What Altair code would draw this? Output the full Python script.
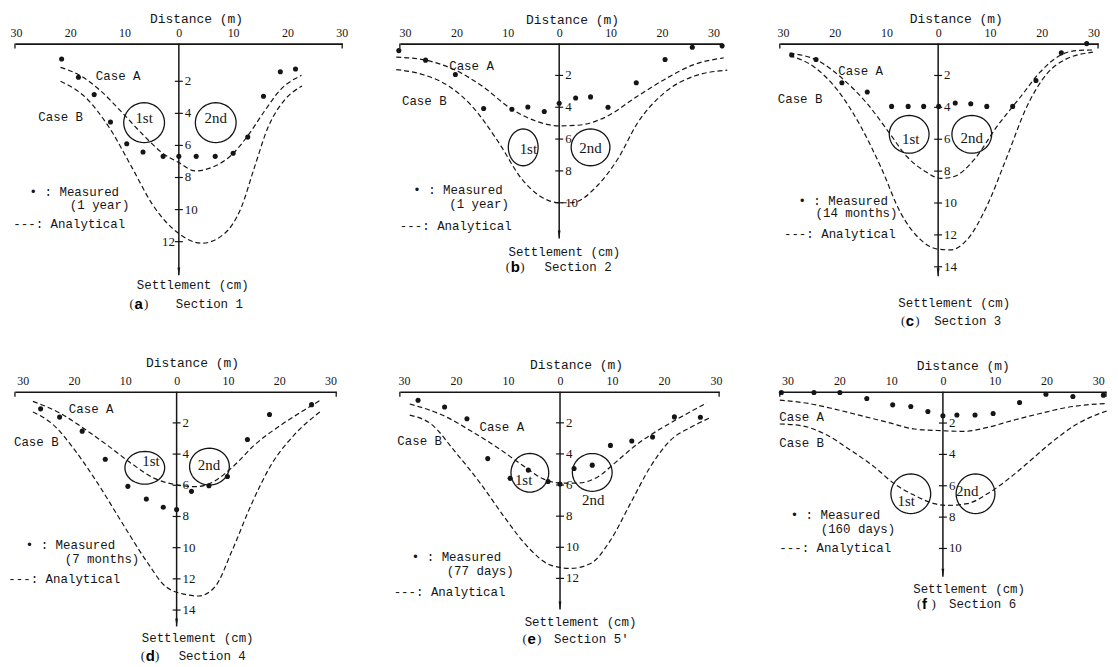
import math
import altair as alt
import pandas as pd

# ---------------- data ----------------
X_TICKS = [-30, -20, -10, 0, 10, 20, 30]

# (a) Section 1
A_MEAS_D = [-21.6, -18.5, -15.6, -12.6, -9.6, -6.6, -2.9, 0.0, 3.2, 6.7, 10.0, 12.7, 15.6, 18.7, 21.5]
A_MEAS_S = [0.61, 1.75, 2.83, 4.54, 5.89, 6.41, 6.68, 6.68, 6.68, 6.68, 6.49, 5.48, 2.93, 1.40, 1.23]
A_CASEA_D = [-21.8, -18.3, -14.7, -10.4, -6.7, -3.1, 0.0, 3.0, 6.0, 9.7, 12.7, 15.7, 18.8, 22.6]
A_CASEA_S = [1.13, 1.62, 2.51, 3.97, 5.3, 6.45, 7.07, 7.59, 7.38, 6.6, 5.4, 3.9, 2.5, 1.63]
A_CASEB_D = [-21.8, -17.1, -12.8, -8.6, -4.9, 0.0, 4.2, 8.4, 11.5, 13.9, 16.4, 19.4, 22.7]
A_CASEB_S = [2.0, 3.04, 4.9, 7.4, 9.66, 11.5, 12.1, 11.5, 9.87, 7.4, 4.9, 3.2, 2.3]
A_TICKS = [2, 4, 6, 8, 10, 12]
A_PERIOD = "(1 year)"
A_SECTION = "Section 1"

# (b) Section 2
B_MEAS_D = [-31.2, -26.0, -20.2, -14.7, -9.2, -6.1, -2.9, 0.0, 3.2, 6.1, 9.5, 15.0, 20.6, 25.9, 31.7]
B_MEAS_S = [0.44, 1.04, 1.94, 4.08, 4.13, 3.98, 4.27, 3.75, 3.42, 3.35, 4.0, 2.46, 1.0, 0.23, 0.13]
B_CASEA_D = [-31.7, -26.0, -20.2, -15.0, -9.2, -4.7, 0.0, 3.7, 8.8, 15.3, 20.5, 26.3, 32.0]
B_CASEA_S = [0.85, 1.04, 1.67, 2.67, 4.13, 4.85, 5.17, 5.13, 4.65, 3.29, 2.25, 1.31, 0.9]
B_CASEB_D = [-31.7, -26.6, -21.5, -17.0, -11.8, -7.3, -3.4, 0.0, 2.4, 7.5, 11.4, 15.3, 20.5, 26.3, 32.7]
B_CASEB_S = [1.63, 1.94, 2.67, 3.92, 6.2, 8.5, 9.65, 10.0, 10.0, 8.9, 7.25, 4.96, 3.08, 2.04, 1.67]
B_TICKS = [2, 4, 6, 8, 10]
B_PERIOD = "(1 year)"
B_SECTION = "Section 2"

# (c) Section 3
C_MEAS_D = [-28.3, -23.6, -18.6, -13.7, -9.0, -5.8, -2.8, 0.1, 3.3, 6.3, 9.4, 14.4, 18.9, 23.8, 28.7]
C_MEAS_S = [0.71, 1.0, 2.46, 3.04, 3.94, 3.94, 3.94, 3.94, 3.73, 3.77, 3.94, 3.94, 2.31, 0.58, 0.0]
C_CASEA_D = [-28.7, -23.3, -18.1, -13.7, -9.8, -6.0, -2.4, 0.45, 3.0, 6.9, 11.3, 15.9, 19.7, 23.5, 26.7, 29.9]
C_CASEA_S = [0.6, 1.06, 2.31, 3.77, 5.44, 7.1, 8.04, 8.46, 8.35, 7.3, 5.23, 3.35, 1.79, 0.75, 0.44, 0.4]
C_CASEB_D = [-28.7, -23.9, -19.4, -14.9, -11.1, -7.2, -3.4, 0.0, 2.4, 5.6, 9.4, 13.3, 17.1, 21.0, 24.8, 29.9]
C_CASEB_S = [0.75, 1.48, 2.94, 5.23, 7.73, 10.65, 12.3, 12.9, 12.94, 12.3, 10.2, 7.1, 3.98, 1.9, 0.96, 0.54]
C_TICKS = [2, 4, 6, 8, 10, 12, 14]
C_PERIOD = "(14 months)"
C_SECTION = "Section 3"

# (d) Section 4
D_MEAS_D = [-26.5, -22.8, -18.4, -13.9, -9.5, -5.9, -2.6, 0.0, 2.9, 6.3, 9.9, 13.8, 18.1, 26.3]
D_MEAS_S = [1.10, 1.63, 2.53, 4.33, 6.07, 6.88, 7.41, 7.56, 6.39, 6.03, 5.44, 3.06, 1.46, 0.83]
D_CASEA_D = [-28.0, -22.8, -18.3, -13.7, -8.6, -4.7, 0.0, 3.7, 6.9, 10.8, 15.3, 20.5, 25.0, 27.9]
D_CASEA_S = [0.62, 1.36, 2.31, 3.38, 4.65, 5.5, 5.97, 6.09, 5.82, 4.86, 3.38, 2.1, 1.15, 0.57]
D_CASEB_D = [-28.0, -24.1, -20.2, -15.7, -10.5, -6.0, -2.1, 1.7, 4.3, 7.5, 10.8, 14.6, 18.5, 23.0, 27.9]
D_CASEB_S = [1.3, 2.1, 3.59, 5.71, 8.47, 10.8, 12.5, 13.0, 13.1, 12.5, 10.2, 7.2, 4.65, 2.74, 1.3]
D_TICKS = [2, 4, 6, 8, 10, 12, 14]
D_PERIOD = "(7 months)"
D_SECTION = "Section 4"

# (e) Section 5
E_MEAS_D = [-27.3, -22.2, -17.9, -13.9, -9.6, -6.1, -2.3, 0.0, 2.7, 6.2, 9.7, 13.8, 17.8, 22.0, 27.0]
E_MEAS_S = [0.55, 0.98, 1.74, 4.30, 5.57, 5.04, 5.77, 5.94, 4.94, 4.72, 3.45, 3.17, 2.91, 1.62, 1.64]
E_CASEA_D = [-28.9, -22.2, -17.1, -12.0, -7.5, -3.1, 0.0, 3.3, 7.1, 11.0, 14.8, 18.6, 22.4, 28.2]
E_CASEA_S = [0.79, 1.57, 2.53, 3.6, 4.66, 5.62, 5.87, 5.87, 5.51, 4.45, 3.38, 2.53, 1.79, 0.72]
E_CASEB_D = [-28.9, -24.7, -20.3, -15.2, -10.7, -6.2, -1.8, 2.0, 5.9, 9.7, 13.5, 17.3, 21.1, 25.6, 29.1]
E_CASEB_S = [1.51, 2.1, 3.81, 5.94, 8.06, 9.98, 11.15, 11.36, 11.04, 9.55, 7.21, 4.87, 3.17, 2.21, 1.64]
E_TICKS = [2, 4, 6, 8, 10, 12]
E_PERIOD = "(77 days)"
E_SECTION = "Section 5'"

# (f) Section 6
F_MEAS_D = [-31.2, -24.9, -19.9, -14.7, -9.7, -6.2, -2.9, 0.0, 2.7, 6.2, 9.7, 14.8, 19.9, 25.1, 31.0]
F_MEAS_S = [0.05, 0.05, 0.05, 0.43, 0.84, 0.94, 1.26, 1.53, 1.49, 1.49, 1.39, 0.69, 0.16, 0.31, 0.22]
F_CASEA_D = [-31.5, -26.0, -20.9, -15.8, -10.6, -5.5, 0.0, 4.1, 8.6, 13.7, 18.8, 24.0, 27.8, 31.7]
F_CASEA_S = [0.54, 0.75, 1.11, 1.53, 1.96, 2.38, 2.49, 2.53, 2.28, 1.81, 1.39, 1.0, 0.84, 0.75]
F_CASEB_D = [-31.5, -27.3, -22.8, -17.7, -13.2, -9.4, -5.5, -1.7, 0.9, 4.7, 8.6, 13.1, 16.9, 21.4, 25.9, 31.7]
F_CASEB_S = [2.06, 2.17, 2.7, 3.76, 4.81, 5.87, 6.61, 7.14, 7.25, 7.14, 6.51, 5.45, 4.39, 3.12, 2.06, 1.22]
F_TICKS = [2, 4, 6, 8, 10]
F_PERIOD = "(160 days)"
F_SECTION = "Section 6"

# ---------------- layout (positions / sizes, kept apart from data) ----------------
LAYOUT = {
    "a": dict(letter="a", xdom=[-30.2, 30.1], ydom=[-0.35, 14.1], w=329, h=233, tx=182, ty=-25,
              left_labels=[12],
              caseA=(-15.3, 1.69), caseB=(-25.9, 4.24), meas=(-27.5, 8.93), period=(-20.1, 9.72),
              anal=(-30.5, 10.92), c1=(-6.4, 4.58, 41, 40), c2=(6.8, 4.58, 41, 40),
              l1=(-6.4, 4.28), l2=(6.8, 4.28), settle=(2.55, 14.7),
              cap=(-9.1, -0.55, 15.88)),
    "b": dict(letter="b", xdom=[-31.0, 31.7], ydom=[0, 12.25], w=324, h=196, tx=173, ty=-24,
              left_labels=[],
              caseA=(-21.4, 1.42), caseB=(-30.6, 3.6), meas=(-28.4, 9.22), period=(-21.4, 10.05),
              anal=(-31.0, 11.45), c1=(-7.0, 6.52, 30, 37), c2=(6.1, 6.52, 39, 37),
              l1=(-6.0, 6.63), l2=(6.1, 6.56), settle=(1.0, 13.1),
              cap=(-10.4, -2.85, 14.06)),
    "c": dict(letter="c", xdom=[-30.6, 30.9], ydom=[0, 14.6], w=320, h=234, tx=177, ty=-25,
              left_labels=[],
              caseA=(-19.3, 1.69), caseB=(-31.0, 3.46), meas=(-27.0, 9.85), period=(-23.7, 10.65),
              anal=(-29.8, 11.96), c1=(-5.6, 5.69, 40, 38), c2=(6.5, 5.69, 40, 38),
              l1=(-5.3, 5.96), l2=(6.5, 5.9), settle=(3.1, 16.3),
              cap=(-7.2, -0.77, 17.4)),
    "d": dict(letter="d", xdom=[-31.5, 31.1], ydom=[0, 15.05], w=323, h=236, tx=178, ty=-29,
              left_labels=[],
              caseA=(-21.0, 1.1), caseB=(-31.7, 3.2), meas=(-29.4, 9.85), period=(-21.8, 10.7),
              anal=(-32.8, 12.04), c1=(-6.2, 4.88, 40, 33), c2=(6.4, 4.8, 40, 37),
              l1=(-5.0, 4.44), l2=(6.3, 4.71), settle=(4.1, 15.8),
              cap=(-7.0, 0.4, 16.96)),
    "e": dict(letter="e", xdom=[-30.8, 30.6], ydom=[0, 14.0], w=321, h=219, tx=177, ty=-27,
              left_labels=[],
              caseA=(-15.5, 2.26), caseB=(-31.3, 3.17), meas=(-28.5, 10.6), period=(-21.8, 11.5),
              anal=(-32.0, 12.85), c1=(-5.8, 5.21, 38, 39), c2=(6.2, 5.19, 40, 38),
              l1=(-7.0, 5.68), l2=(6.4, 6.96), settle=(3.95, 14.83),
              cap=(-7.2, -1.15, 15.9)),
    "f": dict(letter="f", xdom=[-31.5, 31.5], ydom=[0, 11.8], w=328, h=186, tx=184, ty=-26,
              left_labels=[],
              caseA=(-31.6, 1.6), caseB=(-31.6, 3.29), meas=(-29.4, 7.84), period=(-23.6, 8.73),
              anal=(-31.6, 10.0), c1=(-6.2, 6.51, 40, 40), c2=(6.3, 6.51, 39, 40),
              l1=(-7.1, 6.97), l2=(4.7, 6.36), settle=(5.06, 12.6),
              cap=(-5.0, 1.2, 13.56)),
}

PANELS = [
    ("a", A_MEAS_D, A_MEAS_S, A_CASEA_D, A_CASEA_S, A_CASEB_D, A_CASEB_S, A_TICKS, A_PERIOD, A_SECTION),
    ("b", B_MEAS_D, B_MEAS_S, B_CASEA_D, B_CASEA_S, B_CASEB_D, B_CASEB_S, B_TICKS, B_PERIOD, B_SECTION),
    ("c", C_MEAS_D, C_MEAS_S, C_CASEA_D, C_CASEA_S, C_CASEB_D, C_CASEB_S, C_TICKS, C_PERIOD, C_SECTION),
    ("d", D_MEAS_D, D_MEAS_S, D_CASEA_D, D_CASEA_S, D_CASEB_D, D_CASEB_S, D_TICKS, D_PERIOD, D_SECTION),
    ("e", E_MEAS_D, E_MEAS_S, E_CASEA_D, E_CASEA_S, E_CASEB_D, E_CASEB_S, E_TICKS, E_PERIOD, E_SECTION),
    ("f", F_MEAS_D, F_MEAS_S, F_CASEA_D, F_CASEA_S, F_CASEB_D, F_CASEB_S, F_TICKS, F_PERIOD, F_SECTION),
]

MONO = "Liberation Mono"
SERIF = "Liberation Serif"
SANS = "Liberation Sans"
INK = "#151515"
MONO_SIZE = 12.5


def ellipse_path(w, h, n=48):
    m = max(w, h)
    rx, ry = w / m, h / m
    pts = ["%.4f,%.4f" % (rx * math.cos(2 * math.pi * i / n), ry * math.sin(2 * math.pi * i / n)) for i in range(n)]
    return "M" + "L".join(pts) + "Z"


def build_panel(key, md, ms, ad, as_, bd, bs, ticks, period, section):
    L = LAYOUT[key]
    xs = alt.Scale(domain=L["xdom"], nice=False, zero=False)
    ys = alt.Scale(domain=L["ydom"], reverse=True, nice=False, zero=False)
    axis = alt.Axis(
        orient="top", values=X_TICKS, labelExpr="abs(datum.value)", ticks=False, grid=False,
        domainColor=INK, domainWidth=1.6, labelFont=SERIF, labelFontSize=12, labelColor=INK,
        labelPadding=4, labelFlush=False, title="Distance (m)", titleFont=MONO,
        titleFontSize=13, titleFontWeight="normal", titleColor=INK,
        titleX=L["tx"], titleY=L["ty"], titleAlign="center", titleBaseline="middle",
    )
    X = alt.X("d:Q", scale=xs, axis=axis)
    Y = alt.Y("s:Q", scale=ys, axis=None)
    y0, y1 = L["ydom"]
    layers = []

    # vertical settlement axis
    layers.append(alt.Chart(pd.DataFrame({"d": [0], "s": [y0], "s2": [y1]}))
                  .mark_rule(color=INK, strokeWidth=1.5).encode(x=X, y=Y, y2="s2:Q"))
    layers.append(alt.Chart(pd.DataFrame({"d": [0], "s": [y1]}))
                  .mark_point(shape="M-0.35,-2L0,0L0.35,-2Z", size=64, filled=True, color=INK, opacity=1)
                  .encode(x=X, y=Y))
    layers.append(alt.Chart(pd.DataFrame({"d": [0] * len(ticks), "s": ticks}))
                  .mark_point(shape="M-1,0L1,0", size=64, filled=False, color=INK, strokeWidth=1.2, opacity=1)
                  .encode(x=X, y=Y))
    # end ticks of the distance axis
    layers.append(alt.Chart(pd.DataFrame({"d": L["xdom"], "s": [y0, y0]}))
                  .mark_point(shape="M0,0L0,1", size=100, filled=False, color=INK, strokeWidth=1.3, opacity=1)
                  .encode(x=X, y=Y))
    right = [t for t in ticks if t not in L["left_labels"]]
    left = [t for t in ticks if t in L["left_labels"]]
    layers.append(alt.Chart(pd.DataFrame({"d": [0] * len(right), "s": right, "t": [str(t) for t in right]}))
                  .mark_text(align="left", baseline="middle", dx=6, font=SERIF, fontSize=13, color=INK)
                  .encode(x=X, y=Y, text="t:N"))
    if left:
        layers.append(alt.Chart(pd.DataFrame({"d": [0] * len(left), "s": left, "t": [str(t) for t in left]}))
                      .mark_text(align="right", baseline="middle", dx=-4, font=SERIF, fontSize=13, color=INK)
                      .encode(x=X, y=Y, text="t:N"))

    # analytical curves
    curves = pd.DataFrame({
        "d": list(ad) + list(bd),
        "s": list(as_) + list(bs),
        "case": ["Case A"] * len(ad) + ["Case B"] * len(bd),
    })
    layers.append(alt.Chart(curves).mark_line(color=INK, strokeWidth=1.2, strokeDash=[5, 3], interpolate="monotone")
                  .encode(x=X, y=Y, detail="case:N"))

    # measured
    layers.append(alt.Chart(pd.DataFrame({"d": md, "s": ms}))
                  .mark_circle(size=26, color=INK, opacity=1).encode(x=X, y=Y))

    # tunnels
    for c in (L["c1"], L["c2"]):
        cd, cs, cw, ch = c
        layers.append(alt.Chart(pd.DataFrame({"d": [cd], "s": [cs]}))
                      .mark_point(shape=ellipse_path(cw, ch), size=max(cw, ch) ** 2, filled=False,
                                  color=INK, strokeWidth=1.3, opacity=1)
                      .encode(x=X, y=Y))
    layers.append(alt.Chart(pd.DataFrame({"d": [L["l1"][0], L["l2"][0]], "s": [L["l1"][1], L["l2"][1]],
                                          "t": ["1st", "2nd"]}))
                  .mark_text(align="center", baseline="middle", font=SERIF, fontSize=15, color=INK)
                  .encode(x=X, y=Y, text="t:N"))

    # left-aligned notes
    cap = L["cap"]
    notes = pd.DataFrame({
        "d": [L["caseA"][0], L["caseB"][0], L["meas"][0], L["period"][0], L["anal"][0], cap[1]],
        "s": [L["caseA"][1], L["caseB"][1], L["meas"][1], L["period"][1], L["anal"][1], cap[2]],
        "t": ["Case A", "Case B", "\u2022 : Measured", period, "---: Analytical", section],
    })
    layers.append(alt.Chart(notes).mark_text(align="left", baseline="middle", font=MONO, fontSize=MONO_SIZE, color=INK)
                  .encode(x=X, y=Y, text="t:N"))
    layers.append(alt.Chart(pd.DataFrame({"d": [L["settle"][0]], "s": [L["settle"][1]], "t": ["Settlement (cm)"]}))
                  .mark_text(align="center", baseline="middle", font=MONO, fontSize=MONO_SIZE, color=INK)
                  .encode(x=X, y=Y, text="t:N"))
    # caption "(x)": parentheses and a bold letter, spaced from one anchor
    cap_df = pd.DataFrame({"d": [cap[0]], "s": [cap[2]], "o": ["("], "l": [L["letter"]], "c": [")"]})
    layers.append(alt.Chart(cap_df).mark_text(align="left", baseline="middle", font=SERIF, fontSize=13,
                                              color=INK, dx=0)
                  .encode(x=X, y=Y, text="o:N"))
    layers.append(alt.Chart(cap_df).mark_text(align="left", baseline="middle", font=SANS, fontWeight="bold",
                                              fontSize=15, color="#000", dx=5)
                  .encode(x=X, y=Y, text="l:N"))
    layers.append(alt.Chart(cap_df).mark_text(align="left", baseline="middle", font=SERIF, fontSize=13,
                                              color=INK, dx=14.5)
                  .encode(x=X, y=Y, text="c:N"))

    return alt.layer(*layers).properties(width=L["w"], height=L["h"])


charts = [build_panel(*p) for p in PANELS]

chart = alt.concat(
    *charts, columns=3, spacing={"row": 116, "column": 58}, bounds="flush"
).properties(
    padding={"left": 0, "top": 3, "right": 0, "bottom": 0}, background="white"
).configure_view(strokeWidth=0)

chart.save("out.html", embed_options={"renderer": "svg", "actions": False})
